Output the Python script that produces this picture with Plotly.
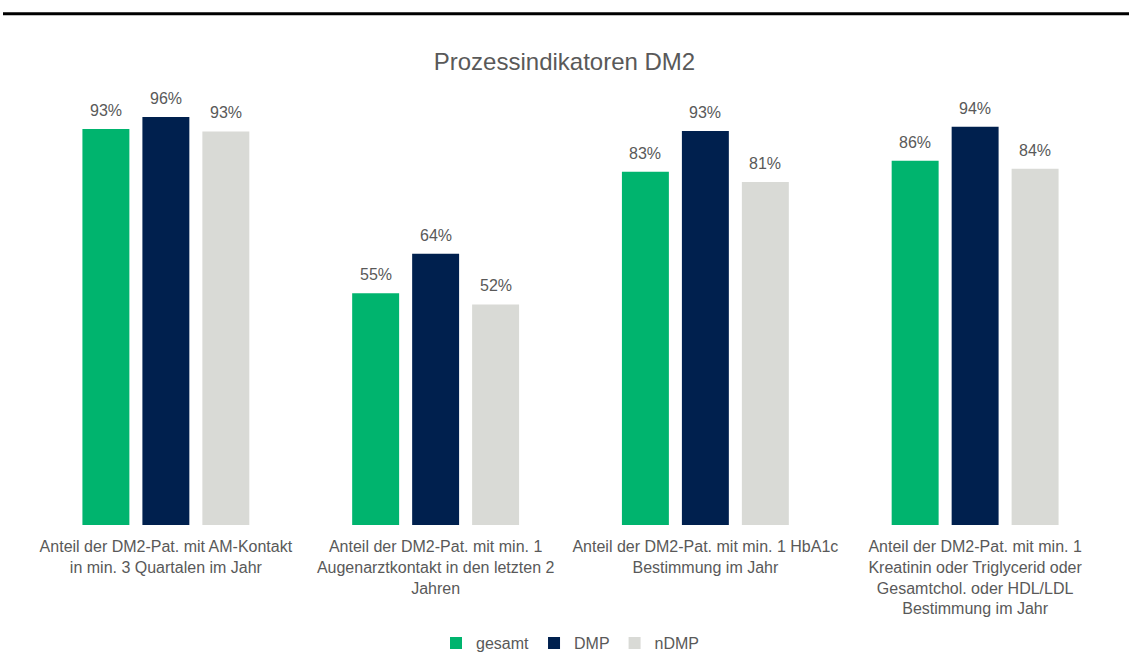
import plotly.graph_objects as go

categories = [
    "Anteil der DM2-Pat. mit AM-Kontakt<br>in min. 3 Quartalen im Jahr",
    "Anteil der DM2-Pat. mit min. 1<br>Augenarztkontakt in den letzten 2<br>Jahren",
    "Anteil der DM2-Pat. mit min. 1 HbA1c<br>Bestimmung im Jahr",
    "Anteil der DM2-Pat. mit min. 1<br>Kreatinin oder Triglycerid oder<br>Gesamtchol. oder HDL/LDL<br>Bestimmung im Jahr",
]
series_names = ["gesamt", "DMP", "nDMP"]
gesamt = [0.932, 0.545, 0.831, 0.857]
dmp = [0.960, 0.638, 0.927, 0.937]
ndmp = [0.926, 0.519, 0.807, 0.838]
colors = ["#00B46E", "#00204E", "#D9DAD6"]

font_color = "#595959"
fnt = "Liberation Sans, Arial, sans-serif"

fig = go.Figure()
all_series = [gesamt, dmp, ndmp]
for name, vals, col in zip(series_names, all_series, colors):
    fig.add_trace(go.Bar(
        name=name, x=categories, y=vals, marker=dict(color=col, line=dict(width=0)),
        hovertemplate="%{y:.0%}<extra>" + name + "</extra>",
    ))

# value labels (placed above each bar, offset within its group)
for i, vals in enumerate(all_series):
    for cat, v in zip(categories, vals):
        fig.add_annotation(x=cat, y=v, xref="x", yref="y", text=f"{round(v * 100):d}%",
                           showarrow=False, xshift=(i - 1) * 60, yshift=8,
                           yanchor="bottom",
                           font=dict(size=16, color=font_color, family=fnt))

fig.update_layout(
    width=1129, height=671,
    margin=dict(l=31, r=19, t=100, b=145),
    paper_bgcolor="white", plot_bgcolor="white",
    barmode="group", bargap=0.333, bargroupgap=0.217,
    font=dict(family=fnt, color=font_color, size=16),
    title=dict(text="Prozessindikatoren DM2", x=0.5, xanchor="center",
               y=1 - 62 / 671, yanchor="middle", yref="container",
               font=dict(size=24, color=font_color, family=fnt)),
    legend=dict(orientation="h", x=0.5, xanchor="center", y=-0.275, yanchor="middle",
                font=dict(size=16, color=font_color), itemwidth=30, traceorder="normal"),
    showlegend=True,
)
fig.update_xaxes(showline=False, showgrid=False, ticks="", ticklabelstandoff=10,
                 tickfont=dict(size=16, color=font_color))
fig.update_yaxes(range=[0, 1.0], visible=False, showgrid=False)

fig.add_shape(type="line", xref="paper", yref="paper",
              x0=(3 - 31) / 1079, x1=(1129 - 31) / 1079,
              y0=(526 - 13.5) / 426, y1=(526 - 13.5) / 426,
              line=dict(color="black", width=3))

fig.write_html("out.html", config={"displayModeBar": False},
               post_script="document.body.style.margin='0';document.body.style.overflow='hidden';")
